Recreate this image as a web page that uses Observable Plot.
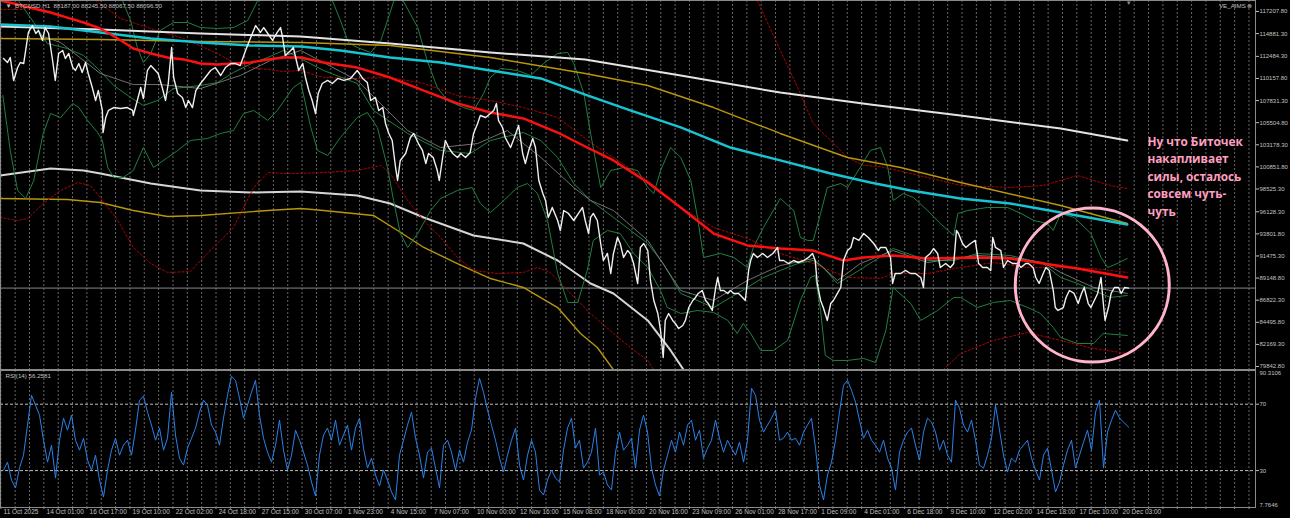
<!DOCTYPE html>
<html><head><meta charset="utf-8">
<script src="https://cdn.jsdelivr.net/npm/d3@7"></script>
<script src="https://cdn.jsdelivr.net/npm/@observablehq/plot@0.6"></script>
<style>
html,body{margin:0;padding:0;background:#000;}
#chart{width:1290px;height:518px;background:#000;overflow:hidden;}
#chart svg{display:block;}
</style></head><body><div id="chart"></div>
<script>
// ---------- tick labels ----------
const priceTicks = [117207.80,114881.30,112484.30,110157.80,107831.30,105504.80,103178.30,100851.80,98525.30,96128.30,93801.80,91475.30,89148.80,86822.30,84495.80,82169.30,79842.80];
const rsiLevels = [70, 30];
const rsiExtremes = [90.3106, 7.7646];
const timeLabels = ["11 Oct 2025","14 Oct 01:00","16 Oct 17:00","19 Oct 10:00","22 Oct 02:00","24 Oct 18:00","27 Oct 15:00","30 Oct 07:00","1 Nov 23:00","4 Nov 15:00","7 Nov 07:00","10 Nov 00:00","12 Nov 16:00","15 Nov 08:00","18 Nov 00:00","20 Nov 16:00","23 Nov 09:00","26 Nov 01:00","28 Nov 17:00","1 Dec 09:00","4 Dec 01:00","6 Dec 18:00","9 Dec 10:00","12 Dec 02:00","14 Dec 18:00","17 Dec 10:00","20 Dec 03:00"];
const barsPerLabel = 64;
const headerText = "▼  BTCUSD,H1  88187.00 88245.50 88067.50 88096.50";
const expertText = "VE_AIMS ⊗";
const rsiTitle = "RSI(14) 56.2581";
const lastClose = 88096.50;

// ---------- series: [bar index, value] ----------
const price = [[0,112260],[6,111840],[10,112370],[15,109950],[21,111310],[25,111840],[30,111730],[37,115000],[43,115730],[48,114890],[52,115210],[58,114160],[62,115520],[67,114890],[73,112050],[77,109950],[82,112790],[88,113100],[92,112260],[97,112790],[103,111310],[107,111000],[112,111730],[117,110790],[122,111840],[126,110680],[132,109210],[137,107840],[141,108890],[147,106790],[148,104470],[152,106050],[156,106790],[164,107100],[174,107000],[184,107100],[192,106790],[193,106260],[199,107840],[204,109210],[208,108050],[214,111000],[219,111520],[226,111000],[230,110680],[236,109210],[241,107840],[245,109630],[250,113420],[253,110260],[259,108580],[266,108160],[271,107100],[275,107840],[281,107100],[286,108890],[293,109630],[300,110260],[308,111000],[315,111310],[323,110470],[330,111310],[338,111730],[345,111730],[352,111520],[360,113100],[364,113840],[370,114890],[375,115730],[382,115000],[387,115520],[393,114890],[400,114160],[407,115000],[412,115520],[415,114470],[419,112580],[427,113100],[431,113420],[439,111000],[445,111730],[449,110260],[454,108890],[459,107840],[464,106470],[468,108580],[474,109630],[482,109950],[489,109630],[497,110160],[506,109950],[516,110160],[526,111000],[534,110160],[541,109730],[546,107840],[553,108160],[558,106790],[564,107100],[568,105420],[573,104370],[578,103630],[583,100790],[586,99420],[590,101530],[598,102260],[605,103950],[610,104370],[617,103310],[623,102580],[628,101210],[632,102260],[639,101840],[645,100470],[648,99420],[653,101840],[657,103630],[662,102890],[668,102260],[675,101840],[680,102260],[687,101840],[694,102370],[699,104370],[705,105420],[709,106260],[717,106050],[724,106470],[729,106790],[733,107520],[736,105740],[742,105000],[746,103950],[754,102890],[758,103630],[766,105210],[772,102260],[776,101210],[781,102580],[787,103840],[791,102890],[796,99420],[802,98050],[806,97320],[810,95530],[816,96580],[824,95210],[828,94160],[833,96260],[840,95950],[848,95210],[855,95950],[861,96580],[865,95210],[870,93840],[873,95530],[877,95950],[883,95210],[888,92790],[892,91000],[898,91740],[903,89630],[907,91740],[913,93420],[917,92790],[922,91320],[928,92050],[932,91740],[937,90680],[943,88580],[947,92370],[952,92790],[958,92050],[962,88900],[967,86790],[973,85420],[977,83630],[981,80790],[984,84690],[989,85420],[995,84690],[999,84370],[1004,83840],[1010,84160],[1014,84690],[1019,86050],[1025,86790],[1029,87110],[1033,87530],[1039,87840],[1044,86790],[1048,86470],[1054,85740],[1059,88160],[1062,89210],[1066,87840],[1071,87840],[1077,87530],[1081,87840],[1086,87530],[1093,87530],[1099,87110],[1103,86790],[1108,89950],[1111,91000],[1115,91740],[1121,91320],[1129,91740],[1136,91320],[1144,91740],[1151,92370],[1154,91000],[1160,91000],[1167,90680],[1175,91000],[1182,90790],[1190,91000],[1197,91320],[1203,91740],[1207,91000],[1210,88580],[1215,86790],[1219,86050],[1225,84690],[1230,86470],[1234,86790],[1240,87530],[1245,88160],[1249,91000],[1255,92050],[1260,92370],[1264,93420],[1272,93110],[1279,93840],[1286,93420],[1294,92790],[1301,92050],[1304,92370],[1312,92370],[1319,91320],[1322,88580],[1326,89630],[1334,89630],[1341,89950],[1349,89630],[1356,89630],[1364,89210],[1368,88160],[1371,91320],[1378,91740],[1383,92260],[1389,91740],[1393,90260],[1401,90680],[1408,90260],[1413,90680],[1417,94160],[1420,93840],[1426,92790],[1431,92370],[1438,92790],[1445,93110],[1450,90680],[1456,90260],[1463,90260],[1468,89950],[1471,93420],[1475,92370],[1483,92050],[1487,90260],[1493,91000],[1501,90680],[1508,90680],[1513,90260],[1520,90680],[1524,90680],[1531,90260],[1535,89210],[1540,88580],[1546,89630],[1550,90260],[1555,89950],[1561,87840],[1564,86050],[1568,85740],[1576,86050],[1580,87110],[1585,87840],[1592,87530],[1598,86470],[1603,87530],[1607,88160],[1613,86470],[1617,86050],[1622,86790],[1627,87530],[1632,89210],[1635,86790],[1638,84690],[1643,86050],[1647,87530],[1652,88160],[1658,88160],[1662,87530],[1667,88160],[1673,88096.5]];

const maWhiteUpper = [[-5,115630],[144,115310],[293,114890],[442,114580],[575,113840],[724,112890],[865,112160],[1007,110470],[1155,108680],[1289,107420],[1423,106260],[1572,104890],[1671,103630]];
const maCyan = [[-5,115840],[70,115630],[144,114990],[219,114370],[293,113950],[367,113630],[442,113520],[501,113100],[575,112370],[650,111840],[724,111000],[799,110160],[865,108470],[932,106790],[1007,105000],[1081,102890],[1155,101530],[1230,100160],[1289,99210],[1349,98370],[1423,97530],[1497,97000],[1572,96050],[1671,94790]];
const maGoldUpper = [[-5,114370],[144,114260],[293,114050],[442,113950],[575,113630],[724,112370],[865,110680],[958,109420],[1056,107100],[1155,104370],[1255,101840],[1334,100790],[1423,99210],[1572,96790],[1671,94890]];
const maRed = [[-5,118370],[15,118050],[45,117520],[70,117100],[95,116570],[119,116050],[144,115420],[170,114370],[193,113310],[219,112790],[244,112370],[268,112160],[293,111730],[318,111630],[342,111730],[367,111840],[393,112160],[416,112370],[442,112370],[476,111840],[526,111310],[575,110260],[625,108890],[675,107530],[724,106580],[773,105950],[824,104470],[865,103000],[907,101530],[958,99210],[1007,96580],[1056,93840],[1106,92580],[1155,92260],[1204,92050],[1249,91000],[1279,91320],[1323,91530],[1374,91210],[1448,91320],[1497,91210],[1546,90680],[1597,90160],[1671,89210]];
const maWhiteLower = [[-5,99950],[70,100680],[119,100470],[144,100160],[219,99100],[293,98370],[367,98160],[442,98260],[526,97840],[575,97000],[625,95530],[699,93630],[773,92790],[824,91000],[873,88580],[907,87530],[958,84690],[992,81530],[1014,79210]];
const maGoldLower = [[-5,97530],[95,97420],[144,97100],[193,96260],[244,95630],[293,95740],[393,96260],[442,96470],[476,96260],[550,95740],[586,94160],[625,92370],[675,90680],[724,89100],[773,88160],[824,86050],[858,83320],[883,81840],[910,79210]];

const envTopLeft = [[-5,117420],[28,117420],[43,117840]];
const envMid = [[137,118370],[174,116470],[219,115420],[268,114370],[318,112790],[342,111840],[367,111310],[393,111100],[416,110890],[442,111000],[476,110260],[526,110160],[575,110260],[625,109630],[675,108370],[724,107840],[773,107100],[824,106050],[873,103420],[907,101840],[958,99420],[1007,96580],[1056,94470],[1106,93320],[1155,91740],[1204,90680],[1255,89210],[1304,89110],[1323,89630],[1374,89630],[1423,90260],[1472,90790],[1523,90260],[1572,90260],[1621,90160],[1671,89740]];
const envUpperRight = [[1121,118370],[1155,113100],[1181,109210],[1204,105420],[1230,103630],[1255,101840],[1279,101000],[1304,100890],[1349,100160],[1423,98890],[1497,98680],[1546,98890],[1597,99950],[1646,98890],[1671,98580]];
const envLowerLeft = [[-5,95530],[21,95210],[36,95420],[59,97000],[85,98370],[110,99210],[129,98890],[144,97630],[170,95210],[193,92370],[219,90680],[244,89740],[278,89840],[303,91740],[342,94470],[372,98680],[393,100260],[416,100160],[442,100160],[476,100260],[526,100470],[561,101000],[575,100160],[601,97320],[625,95210],[650,93420],[675,91320],[699,89950],[735,89630],[773,89740],[794,90260],[813,89740],[839,87840],[873,85420],[907,83320],[932,81840],[958,80480],[969,79210]];
const envLowerRight = [[1393,79210],[1423,81210],[1472,82580],[1523,83420],[1572,82580],[1621,81740],[1671,81210]];

const bandMid = [[22,118370],[45,116050],[65,113840],[95,113310],[119,112580],[140,111210],[164,109420],[189,108160],[208,107310],[229,107840],[253,109100],[293,109420],[318,109730],[342,110790],[372,111840],[393,112370],[416,113100],[427,112790],[476,111000],[526,109630],[550,106790],[601,104370],[650,102580],[694,102260],[724,103630],[773,104470],[799,103630],[824,101840],[848,99110],[873,97320],[907,95530],[958,92790],[981,90680],[1007,87530],[1056,86050],[1081,87110],[1106,88160],[1130,89210],[1155,89950],[1181,90680],[1204,91000],[1219,90260],[1240,88580],[1255,89210],[1279,90260],[1323,92260],[1374,91000],[1413,91000],[1448,91740],[1497,91530],[1546,90680],[1572,89210],[1597,88580],[1621,87840],[1646,87110],[1671,87320]];
const bandLower = [[-1,108370],[10,102580],[21,98370],[33,97530],[45,99420],[59,104370],[70,106470],[85,106050],[103,107520],[112,107100],[125,105740],[140,104470],[147,103630],[155,100790],[164,99740],[178,99740],[193,100470],[208,102890],[223,100790],[244,101840],[259,102580],[278,103630],[303,103840],[323,104370],[342,104680],[357,106470],[372,106790],[393,105740],[407,106790],[431,109210],[442,109730],[457,104990],[467,102580],[482,102050],[501,103950],[526,106050],[541,106580],[556,104990],[571,100790],[580,97320],[590,93840],[601,92370],[616,93840],[635,96260],[650,97530],[675,98370],[697,98680],[709,97000],[724,96050],[744,97320],[764,98680],[779,99100],[794,98050],[809,95210],[824,89630],[839,86580],[854,86580],[868,89950],[877,93110],[898,94160],[917,93840],[937,91740],[958,90260],[977,87840],[987,86050],[1007,85420],[1032,85740],[1056,85530],[1077,84690],[1091,83320],[1100,84370],[1111,83320],[1126,81530],[1145,81530],[1166,82580],[1185,86790],[1200,89210],[1207,89420],[1215,85740],[1222,81000],[1234,80480],[1255,80480],[1279,80690],[1297,80260],[1312,83630],[1323,88160],[1349,86470],[1364,84690],[1389,85740],[1413,87110],[1423,87110],[1448,86050],[1472,86580],[1497,86790],[1523,86050],[1542,85420],[1561,83950],[1572,82890],[1597,82260],[1621,82260],[1635,83320],[1671,83110]];
const bandUpperA = [[174,118890],[189,116260],[199,113420],[208,111840],[219,112790],[233,115210],[253,116050],[274,116050],[293,115520],[318,115420],[342,115520],[363,116260],[382,118890]];
const bandUpperB = [[486,118890],[501,116260],[513,113940],[526,113420],[546,112890],[561,114160],[571,116260],[583,118890]];
const bandUpperC = [[590,118890],[616,115520],[630,112050],[645,109210],[660,107840],[684,107100],[699,106790],[714,108580],[724,110260],[739,111210],[764,111000],[784,110470],[803,111730],[824,112790],[839,112890],[848,111730],[863,108580],[873,104370],[888,98680],[903,100470],[922,100790],[943,100470],[958,98680],[967,98050],[977,100470],[992,102890],[1007,101840],[1022,99420],[1032,95530],[1041,91320],[1066,91740],[1086,91320],[1106,90260],[1115,92370],[1130,94470],[1155,97530],[1175,96260],[1185,93420],[1196,93110],[1204,93110],[1215,95950],[1225,98680],[1245,99100],[1255,98680],[1274,100790],[1289,102580],[1304,102890],[1315,100790],[1323,97320],[1338,98050],[1353,97630],[1374,96260],[1393,94890],[1413,93630],[1419,95950],[1434,96260],[1463,96580],[1493,96580],[1513,95950],[1532,95210],[1552,94890],[1561,94160],[1572,95950],[1592,95530],[1617,93840],[1632,91320],[1642,90260],[1656,90680],[1671,91210]];
const maGrayFast = [[55,114680],[85,113940],[144,110680],[193,109520],[233,109520],[293,109100],[352,110470],[397,112050],[442,113100],[526,109950],[601,104680],[650,102890],[705,103310],[749,104680],[799,101840],[848,98680],[873,97320],[907,96260],[958,93110],[1007,87840],[1056,86790],[1106,88890],[1155,90470],[1204,91210],[1240,88890],[1274,90680],[1323,92050],[1374,90790],[1448,91530],[1497,91320],[1546,90790],[1572,89740],[1621,88160],[1671,87530]];

// RSI(14), read every ~5.95 bars (4 px) from the first bar, then the last bar
const rsiSampleStep = 5.948;
const rsiValues = [30.3,35.1,24.3,19.5,31.5,39.3,57.4,75.4,69.4,63.4,48.3,35.1,45.3,25.5,48.3,61.6,54.4,63.4,48.3,42.3,49.5,36.3,30.3,39.3,24.3,14.1,30.3,42.3,49.5,39.3,45.3,48.3,39.3,54.4,72.4,74.8,65.2,57.4,48.3,55.6,42.3,49.5,77.2,51.4,37.5,33.3,43.5,49.5,55.6,65.2,72.4,69.4,57.4,53.2,45.3,61.6,75.4,86.8,84.4,73.6,61.6,69.4,77.2,84.4,63.4,49.5,41.1,35.1,45.3,60.4,42.3,30.3,39.3,54.4,48.3,41.1,33.3,23.1,14.7,39.3,51.4,55.6,48.3,60.4,45.3,51.4,57.4,42.3,55.6,61.6,43.5,31.5,37.5,27.3,20.7,30.3,24.3,17.1,12.3,39.3,48.3,57.4,65.2,49.5,39.3,25.5,41.1,43.5,31.5,19.5,45.3,48.3,41.1,30.3,42.3,35.1,47.1,54.4,73.6,85.6,77.2,66.4,57.4,48.3,37.5,29.1,39.3,48.3,55.6,33.3,24.3,39.3,48.3,41.1,18.3,15.3,24.3,30.3,25.5,23.1,42.3,55.6,61.6,43.5,48.3,31.5,35.1,41.1,55.6,27.3,29.1,21.3,18.3,41.1,53.2,42.3,45.3,49.5,31.5,54.4,63.4,53.2,31.5,21.3,14.7,30.3,39.3,48.3,41.1,53.2,45.3,57.4,60.4,48.3,54.4,37.5,43.5,48.3,60.4,49.5,41.1,48.3,43.5,39.3,47.1,35.1,48.3,79.6,75.4,60.4,53.2,57.4,61.6,66.4,48.3,49.5,53.2,48.3,49.5,45.3,53.2,57.4,61.6,43.5,21.3,12.3,27.3,35.1,48.3,65.2,81.4,84.4,78.4,71.2,60.4,49.5,54.4,48.3,45.3,41.1,48.3,37.5,31.5,18.3,41.1,48.3,53.2,55.6,45.3,36.3,53.2,61.6,59.2,53.2,42.3,48.3,39.3,35.1,72.4,67.6,57.4,53.2,60.4,48.3,33.3,31.5,39.3,49.5,69.4,54.4,39.3,29.1,37.5,35.1,42.3,45.3,48.3,37.5,30.3,24.3,39.3,43.5,30.3,17.1,23.1,33.3,42.3,48.3,31.5,39.3,47.1,54.4,42.3,65.2,72.4,31.5,53.2,60.4,66.4,61.6,59.2];
const rsiLast = [1673, 56.2581];
const rsi = rsiValues.map((v, i) => [i * rsiSampleStep, v]).concat([rsiLast]);

// annotation
const note = [{bar: 1701, value: 104370, text: "Ну что Биточек\nнакапливает\nсилы, осталось\nсовсем чуть-\nчуть"}];
const ring = [{bar: 1619, value: 88420}];

// ---------- layout ----------
const W = 1290;
const xDomain = [-4.46, 1861.7];
const priceDomain = [79527, 118365];
const rsiDomain = [7.7646, 90.3106];
const font = "'Liberation Sans', Arial, sans-serif";
const axisColor = "#c0c0c0";
const gridBars = d3.range(0, 88).map(k => k * barsPerLabel / 3 - 4);
const labelBars = timeLabels.map((d, i) => i * barsPerLabel);

const L = (data, stroke, strokeWidth, extra = {}) =>
  Plot.line(data, {x: d => d[0], y: d => d[1], stroke, strokeWidth, clip: true, curve: "linear", ...extra});

const grid = () => Plot.ruleX(gridBars, {stroke: "#808080", strokeWidth: 0.8, strokeDasharray: "2,2"});

const main = Plot.plot({
  width: W, height: 369, marginTop: 0, marginBottom: 0, marginLeft: 0, marginRight: 35,
  style: {background: "#000", color: axisColor, fontFamily: font, fontSize: "6px", overflow: "visible"},
  x: {domain: xDomain, axis: null},
  y: {domain: priceDomain, axis: null},
  marks: [
    grid(),
    Plot.ruleY([lastClose], {stroke: "#7d8a96", strokeWidth: 1}),
    L(maWhiteLower, "#d6d6d6", 2),
    L(maGoldLower, "#b8960b", 1.4),
    L(envTopLeft, "#b00000", 1, {strokeDasharray: "2,2"}),
    L(envMid, "#b00000", 1, {strokeDasharray: "2,2"}),
    L(envUpperRight, "#b00000", 1, {strokeDasharray: "2,2"}),
    L(envLowerLeft, "#b00000", 1, {strokeDasharray: "2,2"}),
    L(envLowerRight, "#b00000", 1, {strokeDasharray: "2,2"}),
    L(bandUpperA, "#1f8040", 1),
    L(bandUpperB, "#1f8040", 1),
    L(bandUpperC, "#1f8040", 1),
    L(bandLower, "#1f8040", 1),
    L(bandMid, "#1f8040", 1),
    L(maGrayFast, "#8c8c8c", 0.8),
    L(maWhiteUpper, "#e4e4e4", 2),
    L(maGoldUpper, "#b8960b", 1.4),
    L(maCyan, "#19c4d2", 2.4),
    L(maRed, "#ff1010", 2.4),
    L(price, "#f0f0f0", 1.4),
    Plot.dot(ring, {x: "bar", y: "value", r: 77, stroke: "#ffb3cc", strokeWidth: 3, fill: "none"}),
    Plot.text(note, {x: "bar", y: "value", text: "text", textAnchor: "start", lineAnchor: "top", lineHeight: 1.48, fill: "#ff9fc0", fontSize: 11.8, fontWeight: "bold", fontFamily: "'Open Sans', 'Noto Sans', sans-serif"}),
    Plot.text([headerText], {frameAnchor: "top-left", dx: 5, dy: 3, lineAnchor: "top", text: d => d, fill: axisColor, fontSize: 6.2}),
    Plot.text([expertText], {frameAnchor: "top-right", dx: -3, dy: 3, lineAnchor: "top", textAnchor: "end", text: d => d, fill: axisColor, fontSize: 6.2}),
    Plot.text([price[price.length - 1][0]], {x: d => d, frameAnchor: "top", lineAnchor: "top", text: () => "▼", fill: "#8a8a8a", fontSize: 6}),
    Plot.frame({stroke: "#8a8a8a"}),
    Plot.axisY({anchor: "right", label: null, ticks: priceTicks, tickSize: 3, tickPadding: 1, tickFormat: d => d.toFixed(2), fontSize: 6}),
    Plot.text([lastClose], {y: d => d, frameAnchor: "right", dx: 5, textAnchor: "start", text: d => d.toFixed(2), fill: "#000", fontSize: 6, ariaLabel: "last-price"})
  ]
});

const rsiPlot = Plot.plot({
  width: W, height: 149, marginTop: 1, marginBottom: 11, marginLeft: 0, marginRight: 35,
  style: {background: "#000", color: axisColor, fontFamily: font, fontSize: "6px", overflow: "visible"},
  x: {domain: xDomain, axis: null},
  y: {domain: rsiDomain, axis: null},
  marks: [
    grid(),
    Plot.ruleY(rsiLevels, {stroke: "#bdbdbd", strokeWidth: 1, strokeDasharray: "3,2"}),
    L(rsi, "#2a82e8", 1),
    Plot.frame({stroke: "#8a8a8a"}),
    Plot.axisY({anchor: "right", label: null, ticks: rsiLevels, tickSize: 3, tickPadding: 1, tickFormat: d => String(d), fontSize: 6}),
    Plot.text([rsiExtremes[0]], {y: d => d, frameAnchor: "right", dx: 4, textAnchor: "start", lineAnchor: "top", text: d => d.toFixed(4), fill: axisColor, fontSize: 6}),
    Plot.text([rsiExtremes[1]], {y: d => d, frameAnchor: "right", dx: 4, textAnchor: "start", lineAnchor: "bottom", dy: -1, text: d => d.toFixed(4), fill: axisColor, fontSize: 6}),
    Plot.text([rsiTitle], {frameAnchor: "top-left", dx: 5, dy: 3, lineAnchor: "top", text: d => d, fill: axisColor, fontSize: 6.2}),
    Plot.axisX({anchor: "bottom", label: null, ticks: gridBars, tickSize: 2, tickFormat: () => "", stroke: "#8a8a8a"}),
    Plot.text(timeLabels, {x: (d, i) => labelBars[i], frameAnchor: "bottom", textAnchor: "start", lineAnchor: "top", dy: 1.5, text: d => d, fill: axisColor, fontSize: 6.5})
  ]
});

const host = document.getElementById("chart");
host.append(main, rsiPlot);

// background box behind the last-price label, sized from the rendered text
const lp = main.querySelector('g[aria-label="last-price"] text');
if (lp) {
  const b = lp.getBBox();
  const r = document.createElementNS("http://www.w3.org/2000/svg", "rect");
  r.setAttribute("x", b.x - 2); r.setAttribute("y", b.y - 1);
  r.setAttribute("width", b.width + 4); r.setAttribute("height", b.height + 2);
  r.setAttribute("fill", "#d4d4d4"); r.setAttribute("stroke", "#ffffff"); r.setAttribute("stroke-width", 0.6);
  lp.parentNode.insertBefore(r, lp);
}
</script></body></html>
